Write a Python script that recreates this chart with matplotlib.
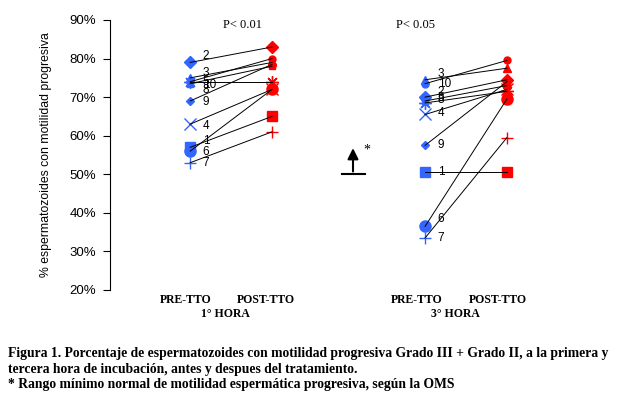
import matplotlib.pyplot as plt
from matplotlib.ticker import FuncFormatter

# patient ids and % progressive motility, before and after treatment
patients = ['1', '2', '3', '4', '5', '6', '7', '8', '9', '10']
hora1_pre = [57, 79, 75, 63, 73.5, 56, 53, 74, 69, 74]
hora1_post = [65, 83, 79, 72, 78, 72, 61, 74, 78.5, 80]
hora3_pre = [50.5, 70, 74.5, 65.5, 69, 36.5, 33.5, 68.5, 57.5, 73.5]
hora3_post = [50.5, 74.5, 77.5, 72, 73, 69.5, 59.5, 71.5, 74, 79.5]
oms_min = 50

group_labels = ['1° HORA', '3° HORA']
cond_labels = ['PRE-TTO', 'POST-TTO']
p_values = ['P< 0.01', 'P< 0.05']

caption = ("Figura 1. Porcentaje de espermatozoides con motilidad progresiva Grado III + Grado II, a la primera y\n"
           "tercera hora de incubación, antes y despues del tratamiento.\n"
           "* Rango mínimo normal de motilidad espermática progresiva, según la OMS")

# marker style per patient (marker, size)
markers = [('s', 6.5), ('D', 6.5), ('^', 6), ('x', 9), ('s', 5),
           ('o', 8), ('+', 9), ((8, 2, 0), 9), ('D', 4), ('o', 5)]
# label offsets in pixels (dy, positive = down) per group
lab_dy1 = [-6, -6, -5, 2, -2, 1, 0, 8, 1, 3]
lab_dy3 = [0, -5, -6, -2, -3, -7, 0, -3, 0, 0]

blue = '#3366ff'
red = '#ff0000'
xpos = [(0.99, 2.0), (3.89, 4.9)]
cond_x = [(0.93, 1.93), (3.79, 4.79)]
hora_x = [1.42, 4.26]

fig = plt.figure(figsize=(6.18, 3.97), dpi=100)
ax = fig.add_axes([110 / 618, 1 - 290 / 397, 486 / 618, 270 / 397])
ax.set_xlim(0, 6)
ax.set_ylim(20, 90)

px2pt = 72 / 100
groups = [(hora1_pre, hora1_post, lab_dy1), (hora3_pre, hora3_post, lab_dy3)]
for (pre, post, dys), (xa, xb) in zip(groups, xpos):
    for i, pid in enumerate(patients):
        m, ms = markers[i]
        ax.plot([xa, xb], [pre[i], post[i]], color='k', lw=0.7, zorder=3)
        ax.plot(xa, pre[i], marker=m, ms=ms, color=blue, mec=blue, mew=1, zorder=2)
        ax.plot(xb, post[i], marker=m, ms=ms, color=red, mec=red, mew=1, zorder=2)
        ax.annotate(pid, (xa, pre[i]), xytext=(9, -dys[i] * px2pt),
                    textcoords='offset points', fontsize=8.5, va='center',
                    family='Liberation Sans')

# WHO minimum arrow
ax.plot([2.86, 3.15], [oms_min, oms_min], color='k', lw=1.5)
ax.annotate('', xy=(3.0, 57.5), xytext=(3.0, oms_min),
            arrowprops=dict(arrowstyle='-|>', color='k', lw=1.5, mutation_scale=16))
ax.text(3.13, 55.3, '*', fontsize=10, family='Liberation Serif')

for txt, xc in zip(p_values, [1.63, 3.77]):
    ax.text(xc, 88.7, txt, fontsize=9, family='Liberation Serif', ha='center', va='center')

for cx, hx, g in zip(cond_x, hora_x, group_labels):
    for xc, c in zip(cx, cond_labels):
        ax.text(xc, 17.3, c, fontsize=8.5, fontweight='bold', family='Liberation Serif',
                ha='center', va='center')
    ax.text(hx, 13.9, g, fontsize=8.5, fontweight='bold', family='Liberation Serif',
            ha='center', va='center')

for s in ['top', 'right', 'bottom']:
    ax.spines[s].set_visible(False)
ax.spines['left'].set_linewidth(0.8)
ax.set_xticks([])
ax.set_yticks(range(20, 91, 10))
ax.yaxis.set_major_formatter(FuncFormatter(lambda v, p: f'{v:.0f}%'))
ax.tick_params(axis='y', direction='out', length=5, width=0.8, labelsize=9.5, pad=5)
for t in ax.get_yticklabels():
    t.set_family('Liberation Sans')
ax.set_ylabel('% espermatozoides con motilidad progresiva', fontsize=8.8,
              family='Liberation Sans')
ax.yaxis.set_label_coords(-58 / 486, 0.5)

fig.text(8 / 618, 1 - 347 / 397, caption, fontsize=9.8, fontweight='bold',
         family='Liberation Serif', va='top', ha='left', linespacing=1.27)

fig.savefig('out.png', dpi=100)
